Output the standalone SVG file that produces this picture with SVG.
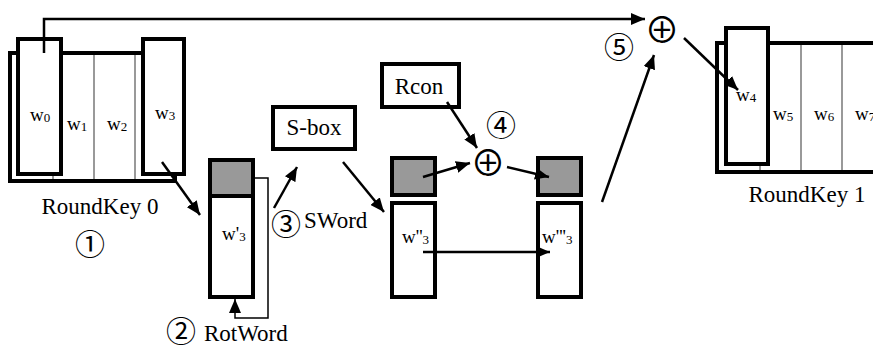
<svg xmlns="http://www.w3.org/2000/svg" width="873" height="347" viewBox="0 0 873 347">
<style>
.box{fill:#fff;stroke:#000;stroke-width:4}
.gray{fill:#999;stroke:#000;stroke-width:4}
.div{stroke:#999;stroke-width:2}
.lbl{font-size:23px;fill:#000}
.w{font-size:19px;fill:#000}
.sub{font-size:13px}
.num{font-size:30px;fill:#000}
.xor{font-size:35px;fill:#000}
.arr{fill:none;stroke:#000;stroke-width:2.5}
.thin{fill:none;stroke:#000;stroke-width:1.5}
</style>
<defs>
<marker id="ah" markerUnits="userSpaceOnUse" markerWidth="14" markerHeight="12" refX="14" refY="6" orient="auto" viewBox="0 0 14 12">
<path d="M0,0 L14,6 L0,12 z" fill="#000"/>
</marker>
</defs>
<g id="roundkey0" font-family="Liberation Serif, serif">
<rect class="box" x="10" y="53" width="165" height="128"/>
<line class="div" x1="53" y1="55" x2="53" y2="179"/>
<line class="div" x1="94" y1="55" x2="94" y2="179"/>
<line class="div" x1="135" y1="55" x2="135" y2="179"/>
<rect class="box" x="18" y="39" width="43" height="135"/>
<rect class="box" x="143" y="39" width="41" height="135"/>
<text class="w" x="30" y="121">w<tspan class="sub" dy="1">0</tspan></text>
<text class="w" x="67" y="130">w<tspan class="sub" dy="1">1</tspan></text>
<text class="w" x="107" y="130">w<tspan class="sub" dy="1">2</tspan></text>
<text class="w" x="155" y="119">w<tspan class="sub" dy="1">3</tspan></text>
<text class="lbl" x="100" y="214" text-anchor="middle">RoundKey 0</text>
</g>
<g id="roundkey1" font-family="Liberation Serif, serif">
<rect class="box" x="717" y="43" width="170" height="129"/>
<line class="div" x1="760" y1="45" x2="760" y2="170"/>
<line class="div" x1="801" y1="45" x2="801" y2="170"/>
<line class="div" x1="842" y1="45" x2="842" y2="170"/>
<rect class="box" x="726" y="28" width="42" height="136"/>
<text class="w" x="736" y="101">w<tspan class="sub" dy="1">4</tspan></text>
<text class="w" x="773" y="120">w<tspan class="sub" dy="1">5</tspan></text>
<text class="w" x="814" y="120">w<tspan class="sub" dy="1">6</tspan></text>
<text class="w" x="855" y="120">w<tspan class="sub" dy="1">7</tspan></text>
<text class="lbl" x="807" y="202" text-anchor="middle">RoundKey 1</text>
</g>
<g id="w3p" font-family="Liberation Serif, serif">
<rect class="gray" x="210" y="160" width="43" height="36"/>
<rect class="box" x="210" y="196" width="43" height="101"/>
<text class="w" x="222" y="240">w'<tspan class="sub" dy="1">3</tspan></text>
</g>
<g id="sbox" font-family="Liberation Serif, serif">
<rect class="box" x="273" y="107" width="82" height="42"/>
<text class="lbl" x="314" y="135" text-anchor="middle">S-box</text>
</g>
<g id="rcon" font-family="Liberation Serif, serif">
<rect class="box" x="382" y="64" width="77" height="43"/>
<text class="lbl" x="419" y="94" text-anchor="middle">Rcon</text>
</g>
<g id="w3pp" font-family="Liberation Serif, serif">
<rect class="gray" x="392" y="158" width="43" height="37"/>
<rect class="box" x="392" y="203" width="43" height="94"/>
<text class="w" x="402" y="243">w''<tspan class="sub" dy="1">3</tspan></text>
</g>
<g id="w3ppp" font-family="Liberation Serif, serif">
<rect class="gray" x="538" y="158" width="43" height="37"/>
<rect class="box" x="538" y="203" width="43" height="94"/>
<text class="w" x="542" y="243">w'''<tspan class="sub" dy="1">3</tspan></text>
</g>
<g id="xor4" font-family="Noto Sans CJK JP, DejaVu Sans, sans-serif">
<text class="xor" x="488" y="160" text-anchor="middle" dominant-baseline="central">⊕</text>
</g>
<g id="xor5" font-family="Noto Sans CJK JP, DejaVu Sans, sans-serif">
<text class="xor" x="662" y="27" text-anchor="middle" dominant-baseline="central">⊕</text>
</g>
<g id="labels">
<g font-family="Noto Sans CJK JP, DejaVu Sans, sans-serif">
<text class="num" x="90" y="242" text-anchor="middle" dominant-baseline="central">①</text>
<text class="num" x="181" y="329" text-anchor="middle" dominant-baseline="central" font-size="28">②</text>
<text class="num" x="286" y="222" text-anchor="middle" dominant-baseline="central">③</text>
<text class="num" x="501" y="123" text-anchor="middle" dominant-baseline="central">④</text>
<text class="num" x="619" y="45" text-anchor="middle" dominant-baseline="central">⑤</text>
</g>
<g font-family="Liberation Serif, serif">
<text class="lbl" x="204" y="341">RotWord</text>
<text class="lbl" x="304" y="228">SWord</text>
</g>
</g>
<g id="connectors">
<polyline class="arr" points="44,53 44,19 645,19" marker-end="url(#ah)"/>
<line class="arr" x1="162" y1="162" x2="200" y2="215" marker-end="url(#ah)"/>
<polyline class="thin" points="253,178 268,178 268,318 235,318 235,299" marker-end="url(#ah)"/>
<line class="arr" x1="274" y1="208" x2="297" y2="167" marker-end="url(#ah)"/>
<line class="arr" x1="343" y1="162" x2="384" y2="212" marker-end="url(#ah)"/>
<line class="arr" x1="447" y1="102" x2="477" y2="148" marker-end="url(#ah)"/>
<line class="arr" x1="423" y1="177" x2="470" y2="163" marker-end="url(#ah)"/>
<line class="arr" x1="507" y1="167" x2="549" y2="177" marker-end="url(#ah)"/>
<line class="arr" x1="423" y1="252" x2="550" y2="252" marker-end="url(#ah)"/>
<line class="arr" x1="602" y1="202" x2="654" y2="55" marker-end="url(#ah)"/>
<line class="arr" x1="684" y1="38" x2="738" y2="90" marker-end="url(#ah)"/>
</g>
</svg>
